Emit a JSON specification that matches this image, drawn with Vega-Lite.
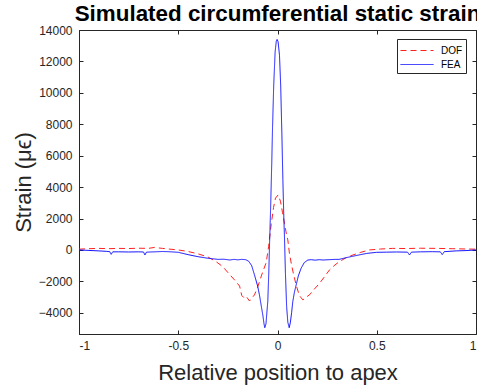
{
  "$schema": "https://vega.github.io/schema/vega-lite/v6.json",
  "width": 397,
  "height": 304,
  "autosize": {"type": "none"},
  "padding": {"left": 79, "top": 30, "right": 1, "bottom": 56},
  "background": "white",
  "title": {
    "text": "Simulated circumferential static strain",
    "anchor": "middle",
    "frame": "group",
    "font": "Liberation Sans",
    "fontSize": 22.4,
    "fontWeight": "bold",
    "color": "black",
    "baseline": "alphabetic",
    "offset": -19
  },
  "config": {
    "view": {"stroke": "#262626", "strokeWidth": 1},
    "axis": {
      "grid": false,
      "domainColor": "#262626",
      "tickColor": "#262626",
      "tickSize": -4,
      "labelFont": "Liberation Sans",
      "labelFontSize": 12,
      "labelColor": "#262626",
      "titleFont": "Liberation Sans",
      "titleFontSize": 22,
      "titleFontWeight": "normal",
      "titleColor": "#262626"
    }
  },
  "data": {
    "values": [
      {"s": "DOF", "x": -1.0, "y": 50},
      {"s": "DOF", "x": -0.95, "y": 80},
      {"s": "DOF", "x": -0.9, "y": 100},
      {"s": "DOF", "x": -0.85, "y": 80},
      {"s": "DOF", "x": -0.8, "y": 100},
      {"s": "DOF", "x": -0.75, "y": 90},
      {"s": "DOF", "x": -0.7, "y": 110},
      {"s": "DOF", "x": -0.65, "y": 100},
      {"s": "DOF", "x": -0.62, "y": 160},
      {"s": "DOF", "x": -0.58, "y": 100},
      {"s": "DOF", "x": -0.55, "y": 60},
      {"s": "DOF", "x": -0.5, "y": 0},
      {"s": "DOF", "x": -0.45, "y": -100},
      {"s": "DOF", "x": -0.4, "y": -250},
      {"s": "DOF", "x": -0.35, "y": -450},
      {"s": "DOF", "x": -0.31, "y": -740},
      {"s": "DOF", "x": -0.276, "y": -1060},
      {"s": "DOF", "x": -0.242, "y": -1550},
      {"s": "DOF", "x": -0.21, "y": -2000},
      {"s": "DOF", "x": -0.191, "y": -2300},
      {"s": "DOF", "x": -0.18, "y": -2900},
      {"s": "DOF", "x": -0.166, "y": -3080},
      {"s": "DOF", "x": -0.155, "y": -3000},
      {"s": "DOF", "x": -0.141, "y": -3250},
      {"s": "DOF", "x": -0.128, "y": -3050},
      {"s": "DOF", "x": -0.116, "y": -2860},
      {"s": "DOF", "x": -0.099, "y": -2330},
      {"s": "DOF", "x": -0.08, "y": -1600},
      {"s": "DOF", "x": -0.057, "y": -800},
      {"s": "DOF", "x": -0.045, "y": 200},
      {"s": "DOF", "x": -0.032, "y": 1600},
      {"s": "DOF", "x": -0.02, "y": 2700},
      {"s": "DOF", "x": -0.01, "y": 3300},
      {"s": "DOF", "x": 0.003, "y": 3500},
      {"s": "DOF", "x": 0.015, "y": 3100},
      {"s": "DOF", "x": 0.025, "y": 2400},
      {"s": "DOF", "x": 0.035, "y": 1700},
      {"s": "DOF", "x": 0.045, "y": 1000},
      {"s": "DOF", "x": 0.052, "y": 640},
      {"s": "DOF", "x": 0.06, "y": -200},
      {"s": "DOF", "x": 0.07, "y": -900},
      {"s": "DOF", "x": 0.08, "y": -1500},
      {"s": "DOF", "x": 0.094, "y": -2230},
      {"s": "DOF", "x": 0.11, "y": -2900},
      {"s": "DOF", "x": 0.128, "y": -3180},
      {"s": "DOF", "x": 0.145, "y": -3000},
      {"s": "DOF", "x": 0.161, "y": -2860},
      {"s": "DOF", "x": 0.185, "y": -2500},
      {"s": "DOF", "x": 0.212, "y": -2120},
      {"s": "DOF", "x": 0.24, "y": -1650},
      {"s": "DOF", "x": 0.262, "y": -1270},
      {"s": "DOF", "x": 0.29, "y": -950},
      {"s": "DOF", "x": 0.312, "y": -740},
      {"s": "DOF", "x": 0.345, "y": -500},
      {"s": "DOF", "x": 0.38, "y": -320},
      {"s": "DOF", "x": 0.42, "y": -150},
      {"s": "DOF", "x": 0.463, "y": 0},
      {"s": "DOF", "x": 0.52, "y": 60},
      {"s": "DOF", "x": 0.58, "y": 100},
      {"s": "DOF", "x": 0.65, "y": 90},
      {"s": "DOF", "x": 0.72, "y": 110},
      {"s": "DOF", "x": 0.8, "y": 100},
      {"s": "DOF", "x": 0.88, "y": 80},
      {"s": "DOF", "x": 0.95, "y": 60},
      {"s": "DOF", "x": 1.0, "y": 50},
      {"s": "FEA", "x": -1.0, "y": 0},
      {"s": "FEA", "x": -0.95, "y": -30},
      {"s": "FEA", "x": -0.9, "y": -60},
      {"s": "FEA", "x": -0.86, "y": -90},
      {"s": "FEA", "x": -0.845, "y": -110},
      {"s": "FEA", "x": -0.838, "y": -280},
      {"s": "FEA", "x": -0.83, "y": -120},
      {"s": "FEA", "x": -0.8, "y": -120},
      {"s": "FEA", "x": -0.75, "y": -130},
      {"s": "FEA", "x": -0.7, "y": -120},
      {"s": "FEA", "x": -0.675, "y": -130},
      {"s": "FEA", "x": -0.668, "y": -320},
      {"s": "FEA", "x": -0.66, "y": -140},
      {"s": "FEA", "x": -0.62, "y": -120},
      {"s": "FEA", "x": -0.58, "y": -100},
      {"s": "FEA", "x": -0.55, "y": -110},
      {"s": "FEA", "x": -0.5, "y": -150},
      {"s": "FEA", "x": -0.45, "y": -300},
      {"s": "FEA", "x": -0.4, "y": -430},
      {"s": "FEA", "x": -0.35, "y": -530},
      {"s": "FEA", "x": -0.3, "y": -600},
      {"s": "FEA", "x": -0.27, "y": -590},
      {"s": "FEA", "x": -0.24, "y": -640},
      {"s": "FEA", "x": -0.22, "y": -600},
      {"s": "FEA", "x": -0.2, "y": -630},
      {"s": "FEA", "x": -0.18, "y": -600},
      {"s": "FEA", "x": -0.16, "y": -620},
      {"s": "FEA", "x": -0.145, "y": -720},
      {"s": "FEA", "x": -0.13, "y": -1000},
      {"s": "FEA", "x": -0.116, "y": -1590},
      {"s": "FEA", "x": -0.1, "y": -2300},
      {"s": "FEA", "x": -0.091, "y": -2860},
      {"s": "FEA", "x": -0.08, "y": -3700},
      {"s": "FEA", "x": -0.074, "y": -4140},
      {"s": "FEA", "x": -0.068, "y": -4700},
      {"s": "FEA", "x": -0.064, "y": -4950},
      {"s": "FEA", "x": -0.058, "y": -4700},
      {"s": "FEA", "x": -0.053, "y": -3900},
      {"s": "FEA", "x": -0.049, "y": -3290},
      {"s": "FEA", "x": -0.044, "y": -1500},
      {"s": "FEA", "x": -0.04, "y": 400},
      {"s": "FEA", "x": -0.035, "y": 2500},
      {"s": "FEA", "x": -0.029, "y": 5500},
      {"s": "FEA", "x": -0.025, "y": 7800},
      {"s": "FEA", "x": -0.019, "y": 10500},
      {"s": "FEA", "x": -0.012, "y": 12600},
      {"s": "FEA", "x": -0.006, "y": 13300},
      {"s": "FEA", "x": -0.002, "y": 13400},
      {"s": "FEA", "x": 0.003, "y": 13250},
      {"s": "FEA", "x": 0.01, "y": 12400},
      {"s": "FEA", "x": 0.016, "y": 10500},
      {"s": "FEA", "x": 0.022, "y": 7400},
      {"s": "FEA", "x": 0.027, "y": 4500},
      {"s": "FEA", "x": 0.032, "y": 2000},
      {"s": "FEA", "x": 0.035, "y": 900},
      {"s": "FEA", "x": 0.04, "y": -1500},
      {"s": "FEA", "x": 0.046, "y": -3600},
      {"s": "FEA", "x": 0.052, "y": -4600},
      {"s": "FEA", "x": 0.059, "y": -4950},
      {"s": "FEA", "x": 0.065, "y": -4600},
      {"s": "FEA", "x": 0.071, "y": -4000},
      {"s": "FEA", "x": 0.077, "y": -3290},
      {"s": "FEA", "x": 0.085, "y": -2700},
      {"s": "FEA", "x": 0.094, "y": -2230},
      {"s": "FEA", "x": 0.105, "y": -1650},
      {"s": "FEA", "x": 0.119, "y": -1165},
      {"s": "FEA", "x": 0.135, "y": -800},
      {"s": "FEA", "x": 0.153, "y": -640},
      {"s": "FEA", "x": 0.17, "y": -620},
      {"s": "FEA", "x": 0.19, "y": -650},
      {"s": "FEA", "x": 0.21, "y": -620},
      {"s": "FEA", "x": 0.23, "y": -640},
      {"s": "FEA", "x": 0.26, "y": -620},
      {"s": "FEA", "x": 0.29, "y": -600},
      {"s": "FEA", "x": 0.31, "y": -600},
      {"s": "FEA", "x": 0.35, "y": -480},
      {"s": "FEA", "x": 0.41, "y": -320},
      {"s": "FEA", "x": 0.45, "y": -220},
      {"s": "FEA", "x": 0.5, "y": -150},
      {"s": "FEA", "x": 0.55, "y": -140},
      {"s": "FEA", "x": 0.6, "y": -130},
      {"s": "FEA", "x": 0.655, "y": -140},
      {"s": "FEA", "x": 0.665, "y": -320},
      {"s": "FEA", "x": 0.675, "y": -140},
      {"s": "FEA", "x": 0.72, "y": -120},
      {"s": "FEA", "x": 0.78, "y": -110},
      {"s": "FEA", "x": 0.82, "y": -120},
      {"s": "FEA", "x": 0.83, "y": -300},
      {"s": "FEA", "x": 0.84, "y": -110},
      {"s": "FEA", "x": 0.9, "y": -60},
      {"s": "FEA", "x": 0.95, "y": -40},
      {"s": "FEA", "x": 1.0, "y": 0}
    ]
  },
  "layer": [
    {
      "mark": {"type": "line", "strokeWidth": 1, "clip": true},
      "encoding": {
        "x": {
          "field": "x", "type": "quantitative",
          "scale": {"domain": [-1, 1], "nice": false, "zero": false},
          "axis": {
            "orient": "bottom",
            "values": [-1, -0.5, 0, 0.5, 1],
            "labelExpr": "datum.value",
            "title": "Relative position to apex",
            "titleBaseline": "alphabetic",
            "titleY": 45,
            "labelPadding": 10
          }
        },
        "y": {
          "field": "y", "type": "quantitative",
          "scale": {"domain": [-5350, 14000], "nice": false, "zero": false},
          "axis": {
            "orient": "left",
            "values": [-4000, -2000, 0, 2000, 4000, 6000, 8000, 10000, 12000, 14000],
            "format": "d",
            "title": "Strain (μϵ)",
            "titleBaseline": "alphabetic",
            "titleX": -49,
            "labelPadding": 11
          }
        },
        "color": {
          "field": "s", "type": "nominal",
          "scale": {"domain": ["DOF", "FEA"], "range": ["#ff2020", "#1010ff"]},
          "legend": {
            "title": null,
            "orient": "none",
            "legendX": 318,
            "legendY": 9,
            "strokeColor": "#262626",
            "fillColor": "white",
            "padding": 3,
            "labelFont": "Liberation Sans",
            "labelFontSize": 10,
            "labelColor": "black",
            "symbolType": "M-1,0H3.125",
            "symbolSize": 256,
            "symbolStrokeWidth": 1,
            "labelOffset": 24,
            "rowPadding": -2
          }
        },
        "strokeDash": {
          "field": "s", "type": "nominal",
          "scale": {"domain": ["DOF", "FEA"], "range": [[6, 4], [1, 0]]},
          "legend": null
        }
      }
    },
    {
      "mark": {"type": "line", "strokeOpacity": 0},
      "encoding": {
        "x": {
          "field": "x", "type": "quantitative",
          "axis": {"orient": "top", "values": [-1, -0.5, 0, 0.5, 1], "labels": false, "title": null, "domain": false}
        },
        "y": {
          "field": "y", "type": "quantitative",
          "axis": {"orient": "right", "values": [-4000, -2000, 0, 2000, 4000, 6000, 8000, 10000, 12000, 14000], "labels": false, "title": null, "domain": false}
        },
        "detail": {"field": "s", "type": "nominal"}
      }
    }
  ],
  "resolve": {"axis": {"x": "independent", "y": "independent"}}
}
